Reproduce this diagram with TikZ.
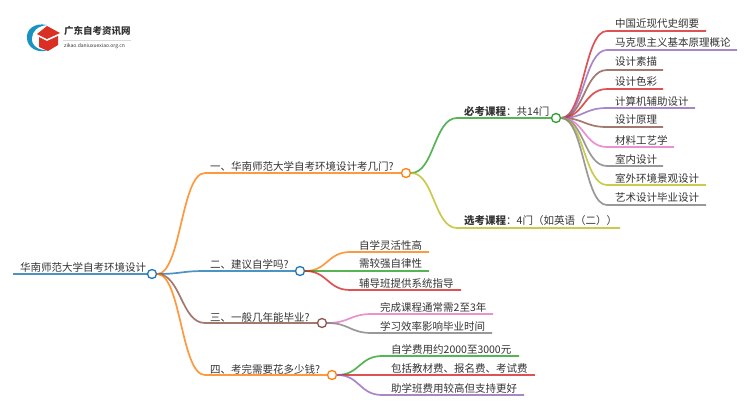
\documentclass[tikz,border=0pt]{standalone}
\usepackage{fontspec}
\usepackage{xcolor}
\usetikzlibrary{calc}
\setmainfont{Noto Sans CJK SC}
\definecolor{cblue}{HTML}{1F77B4}
\definecolor{corange}{HTML}{FF7F0E}
\definecolor{cgreen}{HTML}{2CA02C}
\definecolor{cred}{HTML}{D62728}
\definecolor{cpurple}{HTML}{9467BD}
\definecolor{cbrown}{HTML}{8C564B}
\definecolor{cpink}{HTML}{E377C2}
\definecolor{cgray}{HTML}{7F7F7F}
\definecolor{colive}{HTML}{BCBD22}
\definecolor{ctext}{HTML}{333333}
\tikzset{
  dot/.style={draw, circle, fill=white, line width=1.3pt, minimum size=9pt, inner sep=0pt},
  lbl/.style={anchor=west, inner sep=0pt, text=ctext, font=\fontsize{10.5pt}{12pt}\selectfont},
  wire/.style={line width=1.7pt, draw opacity=0.8},
  curv/.style={to path={(\tikztostart.east) .. controls ($(\tikztostart.east)!0.5!(\tikztotarget|-\tikztostart.east)$) and ($(\tikztotarget)!0.5!(\tikztostart.east|-\tikztotarget)$) .. (\tikztotarget)}}
}
\begin{document}
\begin{tikzpicture}[x=1pt, y=-1pt]
\useasboundingbox (0,0) rectangle (750,410);
% logo
\fill[cblue!80!cyan] (47,25) .. controls (33,22) and (26,31) .. (27,38) .. controls (27,47) and (37,54) .. (48,50) .. controls (38,51) and (31,45) .. (32,38) .. controls (32,31) and (38,26) .. (47,25) -- cycle;
\fill[cred!90!orange] (47,26) -- (60,33) -- (47,39) -- (37,34) -- cycle;
\fill[cred!90!orange] (39,37) -- (47,41) -- (58,36) -- (58,45) -- (48,51) -- (39,47) -- cycle;
\node[anchor=west, inner sep=0pt, text=ctext, font=\fontsize{9.5pt}{11pt}\selectfont\bfseries] (logo1) at (64,31) {广东自考资讯网};
\node[anchor=west, inner sep=0pt, text=ctext, font=\fontsize{5pt}{6pt}\selectfont] (logo2) at (64,46) {zikao.daniuxuexiao.org.cn};
\coordinate (logo3) at (63,40);
\coordinate (logo4) at (131,40);
\path[draw, black!15, line width=0.5pt] (logo3) -- (logo4);

% junction dots
\node[dot, draw=cblue] (0) at (152,274) {};
\node[dot, draw=corange] (1) at (406,173) {};
\node[dot, draw=cblue] (2) at (300,271) {};
\node[dot, draw=cbrown] (3) at (322,323) {};
\node[dot, draw=corange] (4) at (332,375) {};
\node[dot, draw=cgreen] (5) at (556,118) {};

% bend points and line ends
\coordinate (r0) at (13,274);
\coordinate (a1) at (205,173);
\coordinate (a2) at (205,271);
\coordinate (a3) at (205,323);
\coordinate (a4) at (205,375);
\coordinate (b1) at (457,118);
\coordinate (b2) at (457,228);
\coordinate (b3) at (620,228);

% texts
\node[lbl] (t0) at (20,267) {华南师范大学自考环境设计};
\node[lbl] (t1) at (210,166) {一、华南师范大学自考环境设计考几门?};
\node[lbl] (t2) at (210,264) {二、建议自学吗?};
\node[lbl] (t3) at (210,317) {三、一般几年能毕业?};
\node[lbl] (t4) at (210,369) {四、考完需要花多少钱?};
\node[lbl] (t5) at (464,111) {\textbf{必考课程}：共14门};
\node[lbl] (t6) at (464,221) {\textbf{选考课程}：4门（如英语（二））};

\path[draw, wire, cblue] (r0) -- (0);
\path[draw, wire, corange] (0) to[curv] (a1) -- (1);
\path[draw, wire, cblue] (0) to[curv] (a2) -- (2);
\path[draw, wire, cbrown] (0) to[curv] (a3) -- (3);
\path[draw, wire, corange] (0) to[curv] (a4) -- (4);
\path[draw, wire, cgreen] (1) to[curv] (b1) -- (5);
\path[draw, wire, colive] (1) to[curv] (b2) -- (b3);

% required courses
\coordinate (s1) at (607,31);   \coordinate (e1) at (706,31);
\coordinate (s2) at (607,50);   \coordinate (e2) at (737,50);
\coordinate (s3) at (607,70);   \coordinate (e3) at (663,70);
\coordinate (s4) at (607,89);   \coordinate (e4) at (663,89);
\coordinate (s5) at (607,108);  \coordinate (e5) at (695,108);
\coordinate (s6) at (607,127);  \coordinate (e6) at (663,127);
\coordinate (s7) at (607,147);  \coordinate (e7) at (674,147);
\coordinate (s8) at (607,166);  \coordinate (e8) at (663,166);
\coordinate (s9) at (607,185);  \coordinate (e9) at (706,185);
\coordinate (s10) at (607,205); \coordinate (e10) at (706,205);
\node[lbl] (l1) at (615,24) {中国近现代史纲要};
\node[lbl] (l2) at (615,43) {马克思主义基本原理概论};
\node[lbl] (l3) at (615,62) {设计素描};
\node[lbl] (l4) at (615,82) {设计色彩};
\node[lbl] (l5) at (615,101) {计算机辅助设计};
\node[lbl] (l6) at (615,120) {设计原理};
\node[lbl] (l7) at (615,140) {材料工艺学};
\node[lbl] (l8) at (615,159) {室内设计};
\node[lbl] (l9) at (615,178) {室外环境景观设计};
\node[lbl] (l10) at (615,198) {艺术设计毕业设计};
\path[draw, wire, cred] (5) to[curv] (s1) -- (e1);
\path[draw, wire, cpurple] (5) to[curv] (s2) -- (e2);
\path[draw, wire, cbrown] (5) to[curv] (s3) -- (e3);
\path[draw, wire, cred] (5) to[curv] (s4) -- (e4);
\path[draw, wire, cpurple] (5) to[curv] (s5) -- (e5);
\path[draw, wire, cbrown] (5) to[curv] (s6) -- (e6);
\path[draw, wire, cpink] (5) to[curv] (s7) -- (e7);
\path[draw, wire, cgray] (5) to[curv] (s8) -- (e8);
\path[draw, wire, colive] (5) to[curv] (s9) -- (e9);
\path[draw, wire, cgray] (5) to[curv] (s10) -- (e10);

% second branch
\coordinate (s11) at (350,252); \coordinate (e11) at (429,252);
\coordinate (s12) at (350,271); \coordinate (e12) at (429,271);
\coordinate (s13) at (350,290); \coordinate (e13) at (461,290);
\node[lbl] (l11) at (359,245) {自学灵活性高};
\node[lbl] (l12) at (359,264) {需较强自律性};
\node[lbl] (l13) at (359,283) {辅导班提供系统指导};
\path[draw, wire, corange] (2) to[curv] (s11) -- (e11);
\path[draw, wire, cgreen] (2) to[curv] (s12) -- (e12);
\path[draw, wire, cred] (2) to[curv] (s13) -- (e13);

% third branch
\coordinate (s14) at (372,314); \coordinate (e14) at (493,314);
\coordinate (s15) at (372,333); \coordinate (e15) at (492,333);
\node[lbl] (l14) at (380,307) {完成课程通常需2至3年};
\node[lbl] (l15) at (380,326) {学习效率影响毕业时间};
\path[draw, wire, cpink] (3) to[curv] (s14) -- (e14);
\path[draw, wire, cgray] (3) to[curv] (s15) -- (e15);

% fourth branch
\coordinate (s16) at (382,356); \coordinate (e16) at (519,356);
\coordinate (s17) at (382,375); \coordinate (e17) at (535,375);
\coordinate (s18) at (382,395); \coordinate (e18) at (524,395);
\node[lbl] (l16) at (391,349) {自学费用约2000至3000元};
\node[lbl] (l17) at (391,368) {包括教材费、报名费、考试费};
\node[lbl] (l18) at (391,388) {助学班费用较高但支持更好};
\path[draw, wire, cgreen] (4) to[curv] (s16) -- (e16);
\path[draw, wire, cred] (4) to[curv] (s17) -- (e17);
\path[draw, wire, cpurple] (4) to[curv] (s18) -- (e18);
\end{tikzpicture}
\end{document}
